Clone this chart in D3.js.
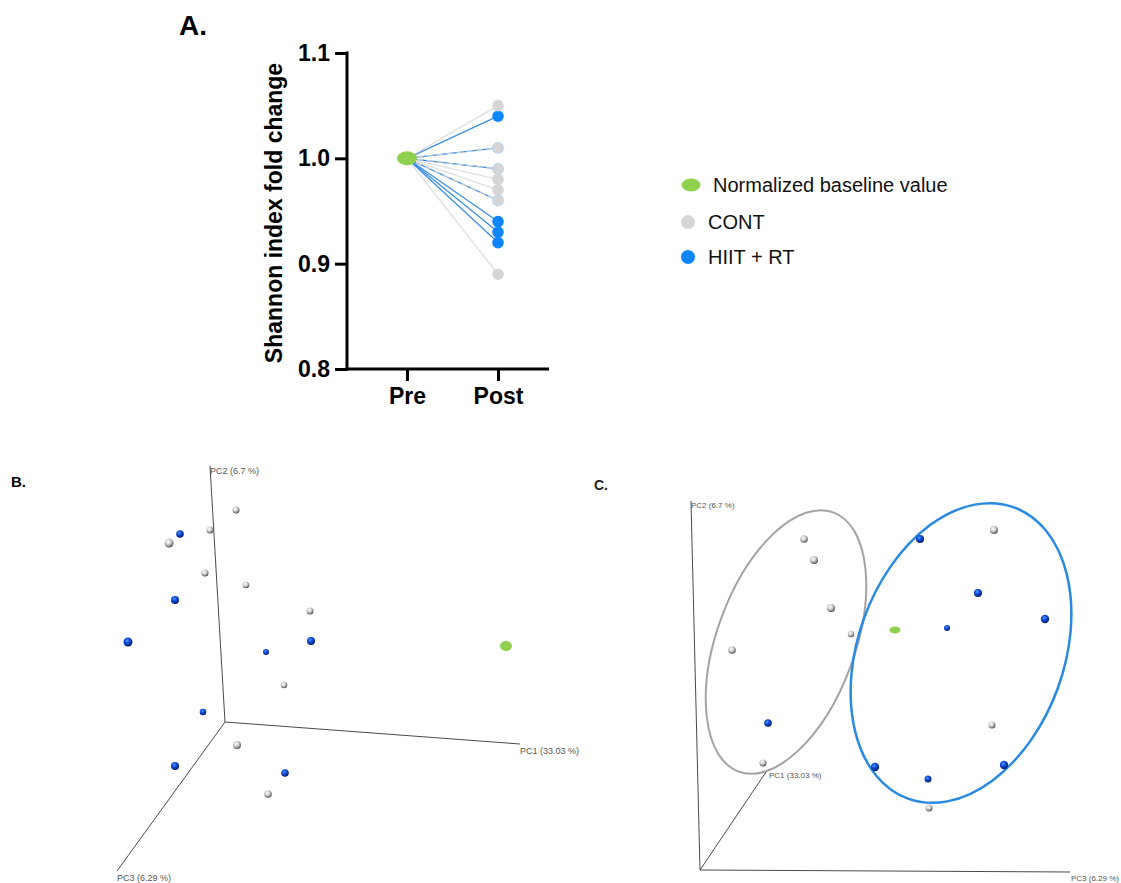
<!DOCTYPE html>
<html>
<head>
<meta charset="utf-8">
<script src="https://cdn.jsdelivr.net/npm/d3@7"></script>
<style>
  html, body { margin: 0; padding: 0; background: #fff; }
  svg { display: block; font-family: "Liberation Sans", Arial, sans-serif; }
</style>
</head>
<body>
<svg id="chart" width="1121" height="883"></svg>
<script>
// ---------- Panel A data ----------
const timepoints = ['Pre', 'Post'];
const yTicksA = [0.8, 0.9, 1.0, 1.1];
const baselineValue = 1.0;
const contPost = [1.05, 1.01, 0.99, 0.98, 0.97, 0.96, 0.89];
const hiitPost = [1.04, 1.01, 0.99, 0.96, 0.94, 0.93, 0.92];
const legendLabels = ['Normalized baseline value', 'CONT', 'HIIT + RT'];

// ---------- Panel B data (projected PCoA coordinates, size) ----------
const pcoaB_axes = [
  { name: 'PC1 (33.03 %)', u: 295, v: -22 },
  { name: 'PC2 (6.7 %)', u: -15, v: 256 },
  { name: 'PC3 (6.29 %)', u: -108, v: -149 }
];
const pcoaB_cont = [[11,212,3.5],[-15,192,3.5],[-56,179,4.5],[-20,149,3.5],[21,137,3.3],[85,111,3.5],[59,37,3.3],[12,-23,4],[43,-72,3.8]];
const pcoaB_hiit = [[-45,188,3.8],[-50,122,4],[-97,80,4.5],[86,81,4],[41,70,3],[-22,10,3.3],[-50,-44,4],[60,-51,3.8]];
const pcoaB_base = [281, 76];

// ---------- Panel C data ----------
const pcoaC_axes = [
  { name: 'PC1 (33.03 %)', u: 66, v: 98 },
  { name: 'PC2 (6.7 %)', u: -9, v: 369 },
  { name: 'PC3 (6.29 %)', u: 370, v: -2 }
];
const pcoaC_cont = [[104,331,3.8],[114,310,4],[294,340,4],[131,262,4],[151,236,3.2],[32,220,3.8],[292,145,3.5],[63,107,3.5],[229,62,3.5]];
const pcoaC_hiit = [[220,331,4],[278,277,4],[247,242,3],[345,251,4.2],[68,147,3.8],[175,103,4.2],[228,91,3.5],[304,105,4.2]];
const pcoaC_base = [195, 240];
const pcoaC_ellipses = [
  { group: 'CONT', cu: 86, cv: 228, ru: 69, rv: 138, angle: 20 },
  { group: 'HIIT', cu: 261, cv: 217, ru: 103, rv: 155, angle: 20 }
];

// ---------- Colors ----------
const C_GREEN = '#8fd14f';
const C_GRAY = '#d6d6d6';
const C_BLUE = '#0f86ff';
const C_GRAYLINE = '#d9d9d9';
const C_BLUELINE = '#3b8fe6';

const svg = d3.select('#chart');

// gradients for spheres
const defs = svg.append('defs');
function sphereGrad(id, stops) {
  const g = defs.append('radialGradient').attr('id', id)
    .attr('cx', '40%').attr('cy', '35%').attr('r', '65%');
  stops.forEach(s => g.append('stop').attr('offset', s[0]).attr('stop-color', s[1]));
}
sphereGrad('gSphere', [['0%', '#ffffff'], ['45%', '#d2d2d2'], ['80%', '#8a8a8a'], ['100%', '#4a4a4a']]);
sphereGrad('bSphere', [['0%', '#5b9bff'], ['40%', '#1050e0'], ['80%', '#0a2f9a'], ['100%', '#061a55']]);

// ================= PANEL A =================
const gA = svg.append('g');
const yA = d3.scaleLinear().domain([0.8, 1.1]).range([369, 53]);
const xA = d3.scalePoint().domain(timepoints).range([407, 498]);

gA.append('text').attr('x', 179).attr('y', 35)
  .attr('font-size', 28).attr('font-weight', 'bold').text('A.');

// y axis
const yAxis = gA.append('g').attr('transform', 'translate(347,0)')
  .call(d3.axisLeft(yA).tickValues(yTicksA).tickFormat(d3.format('.1f')).tickSize(12).tickPadding(5).tickSizeOuter(0));
yAxis.select('.domain').remove();
yAxis.selectAll('.tick line').attr('stroke', '#000').attr('stroke-width', 3);
yAxis.selectAll('.tick text').attr('font-size', 23).attr('font-weight', 'bold')
  .attr('fill', '#000').attr('font-family', '"Liberation Sans", Arial, sans-serif');
gA.append('line').attr('x1', 347).attr('x2', 347).attr('y1', yA(1.1) - 1.5).attr('y2', yA(0.8) + 1.5)
  .attr('stroke', '#000').attr('stroke-width', 3);

// x axis
const xAxis = gA.append('g').attr('transform', 'translate(0,369)')
  .call(d3.axisBottom(xA).tickSize(12).tickPadding(7).tickSizeOuter(0));
xAxis.select('.domain').remove();
xAxis.selectAll('.tick line').attr('stroke', '#000').attr('stroke-width', 3);
xAxis.selectAll('.tick text').attr('font-size', 23).attr('font-weight', 'bold')
  .attr('fill', '#000').attr('font-family', '"Liberation Sans", Arial, sans-serif');
gA.append('line').attr('x1', 345.5).attr('x2', 549).attr('y1', 369).attr('y2', 369)
  .attr('stroke', '#000').attr('stroke-width', 3);

gA.append('text').attr('transform', `translate(282,${(yA(1.1) + yA(0.8)) / 2 + 2}) rotate(-90)`)
  .attr('text-anchor', 'middle').attr('font-size', 23).attr('font-weight', 'bold')
  .text('Shannon index fold change');

// lines: blue first, gray on top (semi-transparent)
gA.selectAll('line.hiit').data(hiitPost).join('line').attr('class', 'hiit')
  .attr('x1', xA('Pre')).attr('y1', yA(baselineValue))
  .attr('x2', xA('Post')).attr('y2', d => yA(d))
  .attr('stroke', C_BLUELINE).attr('stroke-width', 1.3);
gA.selectAll('line.cont').data(contPost).join('line').attr('class', 'cont')
  .attr('x1', xA('Pre')).attr('y1', yA(baselineValue))
  .attr('x2', xA('Post')).attr('y2', d => yA(d))
  .attr('stroke', C_GRAYLINE).attr('stroke-width', 1.3).attr('stroke-opacity', 0.85)
  .attr('stroke-dasharray', (d) => hiitPost.includes(d) ? '6,4' : null);

gA.selectAll('circle.hiitPt').data(hiitPost).join('circle').attr('class', 'hiitPt')
  .attr('cx', xA('Post')).attr('cy', d => yA(d)).attr('r', 5.8)
  .attr('fill', d => contPost.includes(d) ? '#a9cdf3' : C_BLUE);
gA.selectAll('circle.contPt').data(contPost).join('circle').attr('class', 'contPt')
  .attr('cx', xA('Post')).attr('cy', d => yA(d)).attr('r', d => hiitPost.includes(d) ? 5 : 5.8)
  .attr('fill', C_GRAY);
gA.append('ellipse').attr('cx', xA('Pre')).attr('cy', yA(baselineValue)).attr('rx', 10).attr('ry', 7)
  .attr('fill', C_GREEN);

// legend
const legend = gA.append('g');
const legY = [185, 222, 257];
legend.append('ellipse').attr('cx', 691).attr('cy', legY[0]).attr('rx', 9.5).attr('ry', 6.5).attr('fill', C_GREEN);
legend.append('circle').attr('cx', 688).attr('cy', legY[1]).attr('r', 7).attr('fill', C_GRAY);
legend.append('circle').attr('cx', 688).attr('cy', legY[2]).attr('r', 7).attr('fill', C_BLUE);
legend.selectAll('text').data(legendLabels).join('text')
  .attr('x', (d, i) => i === 0 ? 713 : 708)
  .attr('y', (d, i) => legY[i] + 7)
  .attr('font-size', 20).attr('fill', '#111').text(d => d);

// ================= helpers for PCoA panels =================
function drawPcoa(g, xs, ys, axes, cont, hiit, base, baseR, labelOffsets, labelSize, anchors) {
  const ox = xs(0), oy = ys(0);
  g.selectAll('line.axis').data(axes).join('line').attr('class', 'axis')
    .attr('x1', ox).attr('y1', oy).attr('x2', d => xs(d.u)).attr('y2', d => ys(d.v))
    .attr('stroke', '#4a4a4a').attr('stroke-width', 1);
  g.selectAll('text.axlab').data(axes).join('text').attr('class', 'axlab')
    .attr('x', (d, i) => xs(d.u) + labelOffsets[i][0])
    .attr('y', (d, i) => ys(d.v) + labelOffsets[i][1])
    .attr('text-anchor', (d, i) => anchors[i])
    .attr('font-size', labelSize).attr('fill', '#555').text(d => d.name);
  g.append('ellipse').attr('cx', xs(base[0])).attr('cy', ys(base[1]))
    .attr('rx', baseR[0]).attr('ry', baseR[1]).attr('fill', C_GREEN);
  g.selectAll('circle.c').data(cont).join('circle').attr('class', 'c')
    .attr('cx', d => xs(d[0])).attr('cy', d => ys(d[1])).attr('r', d => d[2])
    .attr('fill', 'url(#gSphere)');
  g.selectAll('circle.h').data(hiit).join('circle').attr('class', 'h')
    .attr('cx', d => xs(d[0])).attr('cy', d => ys(d[1])).attr('r', d => d[2])
    .attr('fill', 'url(#bSphere)');
}

// ================= PANEL B =================
const gB = svg.append('g');
gB.append('text').attr('x', 11).attr('y', 487).attr('font-size', 15).attr('font-weight', 'bold').text('B.');
const xB = d3.scaleLinear().domain([0, 100]).range([225, 325]);
const yB = d3.scaleLinear().domain([0, 100]).range([722, 622]);
drawPcoa(gB, xB, yB, pcoaB_axes, pcoaB_cont, pcoaB_hiit, pcoaB_base, [6, 5],
  [[0, 10], [0, 8], [0, 10]], 9, ['start', 'start', 'start']);

// ================= PANEL C =================
const gC = svg.append('g');
gC.append('text').attr('x', 594).attr('y', 490).attr('font-size', 14).attr('font-weight', 'bold').attr('fill', '#222').text('C.');
const xC = d3.scaleLinear().domain([0, 100]).range([700, 800]);
const yC = d3.scaleLinear().domain([0, 100]).range([870, 770]);
gC.selectAll('ellipse.grp').data(pcoaC_ellipses).join('ellipse').attr('class', 'grp')
  .attr('transform', d => `translate(${xC(d.cu)},${yC(d.cv)}) rotate(${d.angle})`)
  .attr('rx', d => xC(d.ru) - xC(0)).attr('ry', d => yC(0) - yC(d.rv))
  .attr('fill', 'none')
  .attr('stroke', d => d.group === 'CONT' ? '#a3a3a3' : '#2a8ae2')
  .attr('stroke-width', d => d.group === 'CONT' ? 2 : 2.5);
drawPcoa(gC, xC, yC, pcoaC_axes, pcoaC_cont, pcoaC_hiit, pcoaC_base, [5.5, 3.5],
  [[3, 6], [0, 7], [49, 9]], 8, ['start', 'start', 'end']);
</script>
</body>
</html>
